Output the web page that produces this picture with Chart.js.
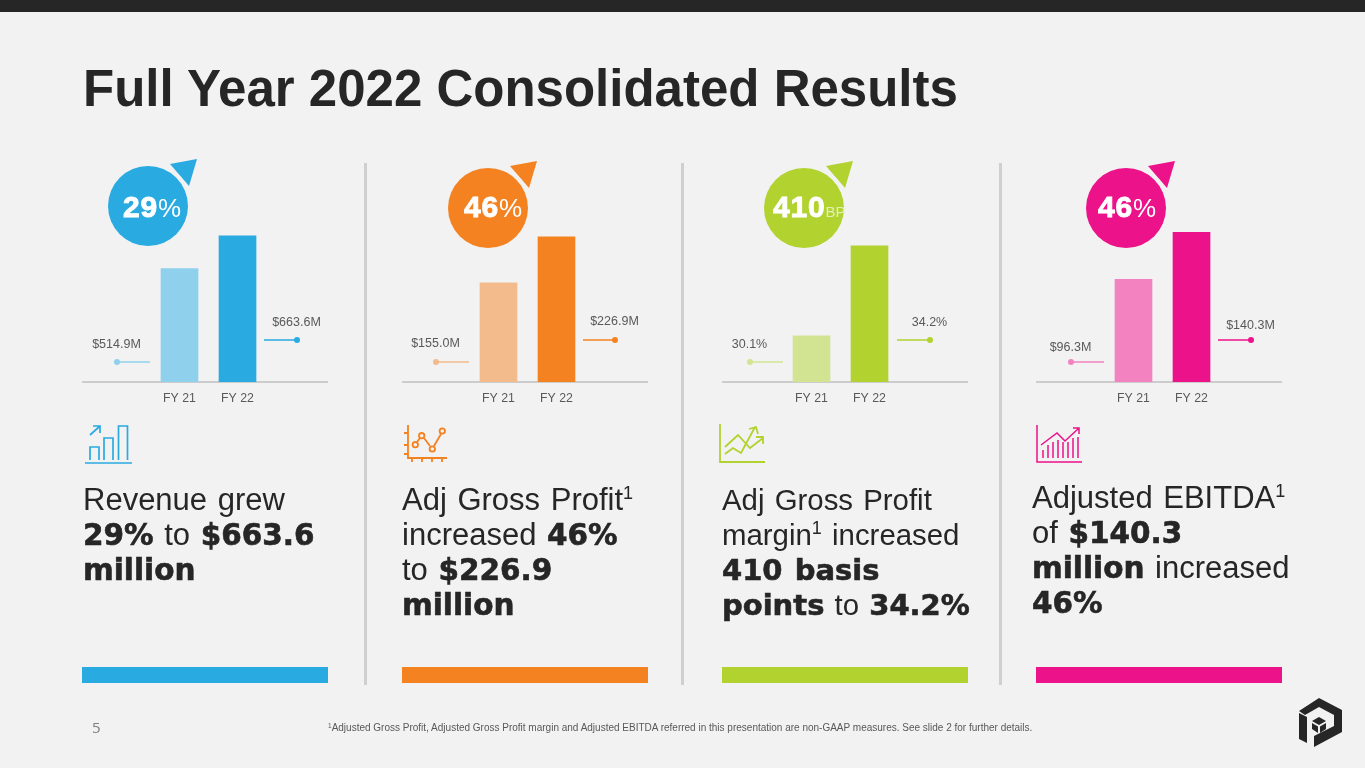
<!DOCTYPE html>
<html>
<head>
<meta charset="utf-8">
<title>Full Year 2022 Consolidated Results</title>
<script src="https://cdn.jsdelivr.net/npm/chart.js@4"></script>
<style>
html, body { margin: 0; padding: 0; }
body { width: 1365px; height: 768px; overflow: hidden; background: #f2f2f2; position: relative;
  font-family: "Liberation Sans", Arial, sans-serif; color: #262626; }
.franja { position: absolute; left: 0; top: 0; width: 1365px; height: 12px; background: #262626; }
h1 { position: absolute; left: 83px; top: 60px; margin: 0; font-size: 51px; line-height: 58px; font-weight: bold; white-space: nowrap; }
canvas { position: absolute; top: 222px; }
svg { position: absolute; left: 0; top: 0; }
.separador { position: absolute; top: 163px; width: 3px; height: 522px; background: #cfcfcf; }
.barra { position: absolute; top: 667px; width: 246px; height: 16px; }
.valor { position: absolute; width: 80px; margin-left: -40.5px; text-align: center; font-size: 12.5px; line-height: 14px; color: #595959; }
.burbuja { position: absolute; top: 190px; color: #fff; white-space: nowrap; line-height: 34px; font-size: 26px; }
.burbuja b { font-size: 30px; letter-spacing: 0.8px; -webkit-text-stroke: 0.9px #fff; }
.burbuja small { font-size: 15px; color: #e4efb4; }
.texto { position: absolute; top: 482px; font-size: 31px; line-height: 35px; word-spacing: 2px; white-space: nowrap; color: #262626; }
.texto b { font-family: "DejaVu Sans", sans-serif; font-size: 29.5px; line-height: 0; font-weight: bold; -webkit-text-stroke: 0.6px #262626; }
.texto sup { font-size: 18px; line-height: 0; vertical-align: 11px; }
.pagina { position: absolute; left: 92px; top: 718px; font-family: "Open Sans", sans-serif; font-size: 15px; line-height: 18px; color: #7f7f7f; }
.nota { position: absolute; left: 328px; top: 722px; font-size: 10px; line-height: 12px; color: #595959; white-space: nowrap; }
.nota sup { font-size: 6.5px; line-height: 0; vertical-align: 3px; }
</style>
</head>
<body>
<div class="franja"></div>
<h1>Full Year 2022 Consolidated Results</h1>

<div class="separador" style="left:364px"></div>
<div class="separador" style="left:681px"></div>
<div class="separador" style="left:999px"></div>

<canvas id="grafico1" width="246" height="188" style="left:82px"></canvas>
<canvas id="grafico2" width="246" height="188" style="left:402px"></canvas>
<canvas id="grafico3" width="246" height="188" style="left:722px"></canvas>
<canvas id="grafico4" width="246" height="188" style="left:1036px"></canvas>

<svg id="adornos" width="1365" height="768" viewBox="0 0 1365 768">
  <!-- icon 1 -->
  <g fill="none" stroke="#29abe2" stroke-width="1.700">
    <path d="M85 463H132" />
    <path d="M90 460V447H99V460M104 460V438H113V460M118.500 460V426H127.500V460" />
    <path d="M90 435L100 426M93 426H100V433" />
  </g>
  <!-- icon 2 -->
  <g fill="none" stroke="#f58220" stroke-width="1.800">
    <path d="M408 425V458H447" />
    <path d="M404 433H408M404 445H408M404 454H408M412 458V462M422 458V462M432 458V462M442 458V462" />
    <path d="M417 442L420 438M424 438L430 446M434 446L441 434" />
    <circle cx="415.300" cy="444.700" r="2.700" />
    <circle cx="421.700" cy="435.700" r="2.700" />
    <circle cx="432.300" cy="449" r="2.700" />
    <circle cx="442.300" cy="431" r="2.700" />
  </g>
  <!-- icon 3 -->
  <g fill="none" stroke="#b1d22f" stroke-width="1.800">
    <path d="M720 424V462H765" />
    <path d="M725 447L738 435L750 448L763 438M756 437H763V444" />
    <path d="M725 454L733 448L741 453L755 427M749 429L756 427L758 434" />
  </g>
  <!-- icon 4 -->
  <g fill="none" stroke="#ec1289" stroke-width="1.500">
    <path d="M1037 425V462H1082" />
    <path d="M1043 458V450M1048 458V445M1053 458V442M1058 458V440M1063 458V442M1068 458V442M1073 458V438M1078 458V437" />
    <path d="M1041 445L1057 433L1065 441L1079 428M1073 428H1079V434" />
  </g>
  <!-- logo -->
  <polygon fill="#262626" points="1319,698 1342,710 1342,732 1314,747 1314,736 1334,726 1334,715 1319,707 1305,715 1299,711" />
  <polygon fill="#262626" points="1299,713 1307,717 1307,743 1299,739" />
  <polygon fill="#262626" points="1319,717 1326,721 1319,725 1312,721" />
  <polygon fill="#262626" points="1312,723 1318,726.500 1318,733 1312,729" />
  <polygon fill="#262626" points="1320,726.500 1326,723 1326,729 1320,733" />
</svg>

<div id="capas"></div>

<div class="texto" style="left:83px">Revenue grew<br><b>29%</b> to <b>$663.6</b><br><b>million</b></div>
<div class="texto" style="left:402px">Adj Gross Profit<sup>1</sup><br>increased <b>46%</b><br>to <b>$226.9</b><br><b>million</b></div>
<div class="texto" style="left:722px;top:482px;font-size:29.4px">Adj Gross Profit<br>margin<sup>1</sup> increased<br><b style="font-size:29px">410 basis</b><br><b style="font-size:29px">points</b> to <b style="font-size:29px">34.2%</b></div>
<div class="texto" style="left:1032px;top:480px">Adjusted EBITDA<sup>1</sup><br>of <b>$140.3</b><br><b>million</b> increased<br><b>46%</b></div>

<div class="barra" style="left:82px;background:#29abe2"></div>
<div class="barra" style="left:402px;background:#f58220"></div>
<div class="barra" style="left:722px;background:#b1d22f"></div>
<div class="barra" style="left:1036px;background:#ec1289"></div>

<div class="pagina">5</div>
<div class="nota"><sup>1</sup>Adjusted Gross Profit, Adjusted Gross Profit margin and Adjusted EBITDA referred in this presentation are non-GAAP measures. See slide 2 for further details.</div>

<script>
// data
const categorias = ['FY 21', 'FY 22'];
const ingresos = [514.9, 663.6];
const brutos = [155.0, 226.9];
const margen = [30.1, 34.2];
const ebitda = [96.3, 140.3];

const etiquetasIngresos = ['$514.9M', '$663.6M'];
const etiquetasBrutos = ['$155.0M', '$226.9M'];
const etiquetasMargen = ['30.1%', '34.2%'];
const etiquetasEbitda = ['$96.3M', '$140.3M'];

Chart.defaults.font.family = '"Liberation Sans", Arial, sans-serif';

// x positions on a linear axis so the two bars sit off-centre like the slide
function dibujarGrafico(id, valores, colores, yMin, yMax, xMin, xMax) {
    const ctx = document.getElementById(id).getContext('2d');
    new Chart(ctx, {
        type: 'bar',
        data: {
            datasets: [{
                data: valores.map((v, i) => ({ x: i + 1, y: v })),
                backgroundColor: colores,
                barThickness: 37
            }]
        },
        options: {
            responsive: false,
            animation: false,
            plugins: { legend: { display: false }, tooltip: { enabled: false } },
            layout: { padding: 0 },
            scales: {
                x: {
                    type: 'linear',
                    min: xMin,
                    max: xMax,
                    offset: false,
                    afterBuildTicks: scale => { scale.ticks = categorias.map((c, i) => ({ value: i + 1 })); },
                    afterFit: scale => { scale.height = 28; },
                    grid: { display: true, offset: false, drawOnChartArea: false, drawTicks: false },
                    border: { display: true, color: '#cccccc', width: 2 },
                    ticks: {
                        callback: (v, i) => categorias[i],
                        autoSkip: false,
                        maxRotation: 0,
                        padding: 9,
                        color: '#595959',
                        font: { size: 12.3 }
                    }
                },
                y: { display: false, min: yMin, max: yMax }
            }
        }
    });
}

dibujarGrafico('grafico1', ingresos, ['#8fd0ec', '#29abe2'], 0, 727, -0.681, 3.56);
dibujarGrafico('grafico2', brutos, ['#f3bb8b', '#f58220'], 0, 250, -0.664, 3.578);
dibujarGrafico('grafico3', margen, ['#d2e492', '#b1d22f'], 28, 35.29, -0.543, 3.698);
dibujarGrafico('grafico4', ebitda, ['#f283c0', '#ec1289'], 0, 150, -0.681, 3.56);

// bubbles and the small lollipop callouts
const adornos = document.getElementById('adornos');
const capas = document.getElementById('capas');

function agregarSvg(html) {
    const g = document.createElementNS('http://www.w3.org/2000/svg', 'g');
    g.innerHTML = html;
    adornos.appendChild(g);
}

function agregarBurbuja(cx, cy, color, numero, sufijo, textoX) {
    agregarSvg(`<polygon points="${cx + 49},${cy - 47} ${cx + 22},${cy - 42} ${cx + 41},${cy - 20}" fill="${color}"/>
        <circle cx="${cx}" cy="${cy}" r="44" fill="#f2f2f2"/>
        <circle cx="${cx}" cy="${cy}" r="40" fill="${color}"/>`);
    const d = document.createElement('div');
    d.className = 'burbuja';
    d.style.left = textoX + 'px';
    d.innerHTML = `<b>${numero}</b>${sufijo}`;
    capas.appendChild(d);
}

function agregarCallout(x1, x2, y, xPunto, color, texto, yTexto) {
    agregarSvg(`<line x1="${x1}" x2="${x2}" y1="${y}" y2="${y}" stroke="${color}" stroke-width="1.500"/>
        <circle cx="${xPunto}" cy="${y}" r="3" fill="${color}"/>`);
    const d = document.createElement('div');
    d.className = 'valor';
    d.style.left = xPunto + 'px';
    d.style.top = (yTexto - 7) + 'px';
    d.textContent = texto;
    capas.appendChild(d);
}

agregarBurbuja(148, 206, '#29abe2', '29', '%', 123);
agregarBurbuja(488, 208, '#f58220', '46', '%', 464);
agregarBurbuja(804, 208, '#b1d22f', '410', '<small>BP</small>', 773);
agregarBurbuja(1126, 208, '#ec1289', '46', '%', 1098);

agregarCallout(117, 150, 362, 117, '#8fd0ec', etiquetasIngresos[0], 344);
agregarCallout(264, 297, 340, 297, '#29abe2', etiquetasIngresos[1], 322);
agregarCallout(436, 469, 362, 436, '#f3bb8b', etiquetasBrutos[0], 343);
agregarCallout(583, 615, 340, 615, '#f58220', etiquetasBrutos[1], 321);
agregarCallout(750, 783, 362, 750, '#d2e492', etiquetasMargen[0], 344);
agregarCallout(897, 930, 340, 930, '#b1d22f', etiquetasMargen[1], 322);
agregarCallout(1071, 1104, 362, 1071, '#f283c0', etiquetasEbitda[0], 347);
agregarCallout(1218, 1251, 340, 1251, '#ec1289', etiquetasEbitda[1], 325);
</script>
</body>
</html>
